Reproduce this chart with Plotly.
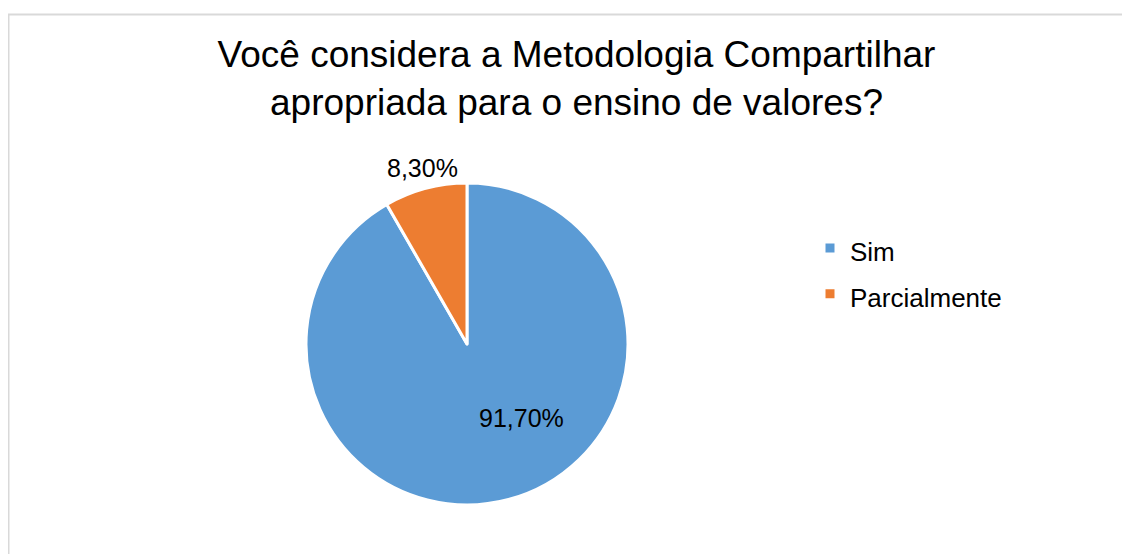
import plotly.graph_objects as go

labels = ["Sim", "Parcialmente"]
values = [91.7, 8.3]
value_text = ["91,70%", "8,30%"]
colors = ["#5B9BD5", "#ED7D31"]

title_text = "Você considera a Metodologia Compartilhar<br>apropriada para o ensino de valores?"

W, H = 1130, 554

# the page adds 8px of body margin, so positions below are in figure pixels
fig = go.Figure(go.Pie(
    labels=[f"<span style='font-size:26px'>{l}</span>" for l in labels],
    values=values,
    textinfo="none",
    sort=False,
    direction="clockwise",
    rotation=0,
    marker=dict(colors=colors, line=dict(color="white", width=3)),
    domain=dict(x=[298 / W, 620 / W], y=[1 - 497 / H, 1 - 175 / H]),
    hovertext=value_text,
    hoverinfo="label+text",
))

# data labels placed as Excel does (best fit)
label_pos = [(513, 410), (414, 160)]
for txt, (px_, py_) in zip(value_text, label_pos):
    fig.add_annotation(
        x=px_ / W, y=1 - py_ / H, xref="paper", yref="paper",
        xanchor="center", yanchor="middle",
        text=txt, showarrow=False,
        font=dict(size=25, color="black"),
    )

fig.update_layout(
    width=W,
    height=H,
    margin=dict(l=0, r=0, t=0, b=0),
    paper_bgcolor="white",
    font=dict(family="Liberation Sans, Arial, sans-serif", color="black"),
    title=dict(
        text=title_text,
        x=568.5 / W,
        xanchor="center",
        y=1 - 59 / H,
        yanchor="top",
        font=dict(size=37, color="black"),
    ),
    legend=dict(
        x=802 / W,
        y=1 - 212 / H,
        xanchor="left",
        yanchor="top",
        font=dict(size=33, color="black"),
        bgcolor="rgba(0,0,0,0)",
    ),
    shapes=[dict(
        type="rect", xref="paper", yref="paper",
        x0=0.5 / W, x1=1.02, y0=-0.02, y1=1 - 6.5 / H,
        line=dict(color="#D9D9D9", width=2),
        fillcolor="rgba(0,0,0,0)",
        layer="below",
    )],
)

fig.write_html("out.html")
